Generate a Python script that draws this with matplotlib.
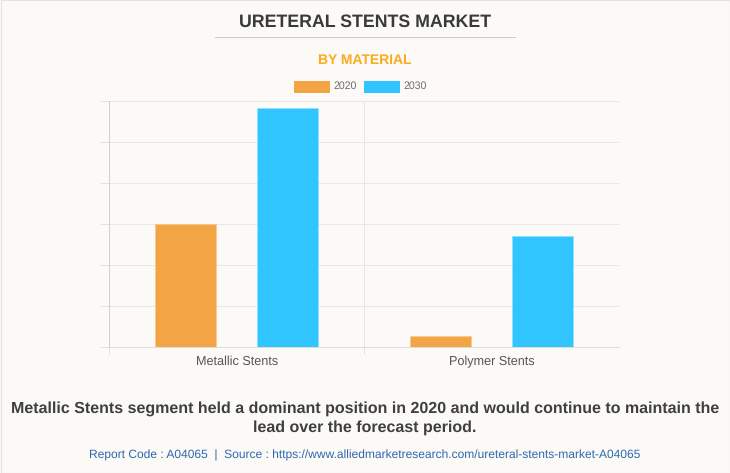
import matplotlib
matplotlib.use("Agg")
import matplotlib.pyplot as plt
from matplotlib.patches import Rectangle

categories = ["Metallic Stents", "Polymer Stents"]
years = ["2020", "2030"]
values_2020 = [60, 5.4]
values_2030 = [116.8, 54]
colors = ["#f3a444", "#30c5ff"]
y_ticks = [0, 20, 40, 60, 80, 100, 120]

W, H = 730, 473
BG = "#fbfaf6"

plt.rcParams["font.family"] = ["Liberation Sans", "DejaVu Sans"]
plt.rcParams["text.hinting"] = "no_hinting"

fig = plt.figure(figsize=(W / 100, H / 100), dpi=100, facecolor=BG)

# axes box in pixels of the picture
left, right, top, bottom = 109.3, 619.3, 101, 347
ax = fig.add_axes([left / W, 1 - bottom / H, (right - left) / W, (bottom - top) / H])
ax.set_facecolor(BG)
ax.set_xlim(0, 2)
ax.set_ylim(0, 120)

bar_w = 61.2 / 255
off = 51 / 255
xs = [0.5, 1.5]
ax.bar([x - off for x in xs], values_2020, bar_w, color=colors[0], edgecolor="#f8c98c", linewidth=0.5, zorder=3)
ax.bar([x + off for x in xs], values_2030, bar_w, color=colors[1], edgecolor="#8fdfff", linewidth=0.5, zorder=3)

for s in ["top", "right"]:
    ax.spines[s].set_visible(False)
ax.spines["left"].set_color("#cfcfcd")
ax.spines["bottom"].set_color("#dcdcda")
ax.spines["left"].set_linewidth(0.72)
ax.spines["bottom"].set_linewidth(0.72)

ax.set_yticks(y_ticks)
ax.set_yticklabels([])
ax.set_xticks([0, 1])
ax.set_xticklabels([])
ax.tick_params(axis="y", length=6.2, width=0.72, color="#e2e2e0")
ax.tick_params(axis="x", length=5, width=0.72, color="#e2e2e0")
ax.grid(True, color="#e8e7e3", linewidth=0.72, zorder=0)
ax.set_axisbelow(True)

for x, c in zip(xs, categories):
    ax.text(x, -18 / 246 * 120, c, ha="center", va="baseline", fontsize=9.1, color="#555555")

# titles and notes, positions in picture pixels
def label(px, py, s, **kw):
    fig.text(px / W, 1 - py / H, s, ha="center", va="center", **kw)

label(365, 22, "URETERAL STENTS MARKET", fontsize=12.8, fontweight="bold", color="#3a3a3a")
fig.add_artist(plt.Line2D([215 / W, 515 / W], [1 - 37.5 / H] * 2, color="#cccccc", linewidth=0.72))
label(365, 60, "BY MATERIAL", fontsize=10.0, fontweight="bold", color="#fbab1d")
label(365.5, 408.5, "Metallic Stents segment held a dominant position in 2020 and would continue to maintain the", fontsize=11.5, fontweight="bold", color="#3f3f3f")
label(365, 427.5, "lead over the forecast period.", fontsize=11.5, fontweight="bold", color="#3f3f3f")
label(365, 455, "Report Code : A04065  |  Source : https://www.alliedmarketresearch.com/ureteral-stents-market-A04065", fontsize=8.62, color="#2f67b0")

# legend drawn by hand so the swatches land where they are in the reference
for x0, tx, c, y in zip([294, 364], [345.5, 415.5], colors, years):
    fig.add_artist(Rectangle((x0 / W, 1 - 93.5 / H), 36 / W, 12.5 / H, transform=fig.transFigure, facecolor=c, edgecolor="none"))
    label(tx, 86.5, y, fontsize=7.6, color="#6e6e6e")

# thin border around the picture
fig.add_artist(Rectangle((0.5 / W, 0.5 / H), (W - 1) / W, (H - 1) / H, transform=fig.transFigure, facecolor="none", edgecolor="#e4e4e4", linewidth=0.8))

fig.savefig("out.png", dpi=100, facecolor=BG)
